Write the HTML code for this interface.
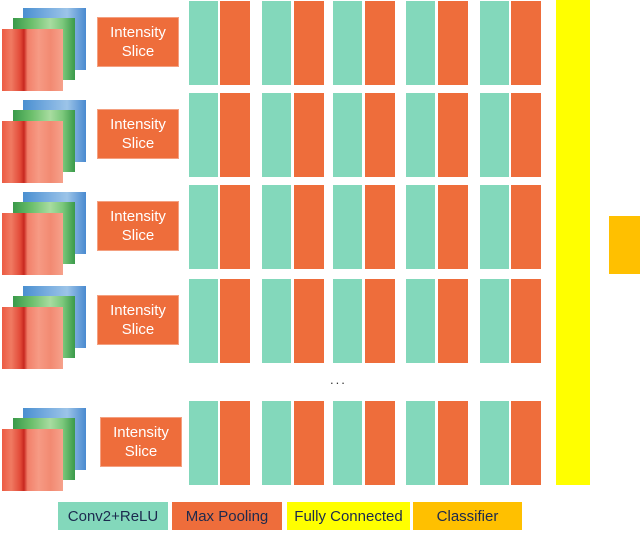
<!DOCTYPE html>
<html><head><meta charset="utf-8"><style>
body{margin:0;width:640px;height:533px;background:#fff;position:relative;overflow:hidden;font-family:"Liberation Sans",sans-serif}
div{position:absolute;box-sizing:border-box}
.t{background:#83d8bb}.o{background:#ee6d3b}
.lbl{background:#ee6d3b;color:#fff;font-size:15px;line-height:19px;text-align:center;display:flex;align-items:center;justify-content:center;border:1px solid #f4a080}
.leg{top:502px;height:28px;font-size:15px;color:#1c2a4e;display:flex;align-items:center;justify-content:center}
.red{background:linear-gradient(90deg,#ec5a42 0%,#f07a62 15%,#e24a38 30%,#c8281f 36%,#f2806a 42%,#f69a84 60%,#f28a72 80%,#f6a28c 100%)}
.grn{background:linear-gradient(90deg,#3a9a4a 0%,#6cbf6c 30%,#a8dca0 60%,#7cc87c 80%,#3a9a4a 100%)}
.blu{background:linear-gradient(90deg,#4a8fd0 0%,#7aaee0 40%,#9cc4e8 70%,#4a8ad0 100%)}
</style></head><body>
<div style="left:556px;top:0;width:34px;height:485px;background:#ffff00"></div>
<div style="left:609px;top:216px;width:31px;height:58px;background:#ffc000"></div>
<div style="left:330px;top:372px;font-size:13px;color:#333;letter-spacing:2px">...</div>
<div class="leg t" style="left:58px;width:110px">Conv2+ReLU</div>
<div class="leg o" style="left:172px;width:110px">Max Pooling</div>
<div class="leg" style="left:287px;width:123px;background:#ffff00">Fully Connected</div>
<div class="leg" style="left:413px;width:109px;background:#ffc000">Classifier</div>
<script>
const rowTops=[1,93,185,279,401];
const labelX=[97,97,97,97,100];
const tealX=[189,262,333,406,480];
const oranX=[220,294,365,438,511];
function mk(cls,l,t,w,h){const d=document.createElement('div');d.className=cls;d.style.left=l+'px';d.style.top=t+'px';d.style.width=w+'px';d.style.height=h+'px';document.body.appendChild(d);return d;}
rowTops.forEach((y,i)=>{
  const b=mk('blu',23,y+7,63,62);
  
  
  const g=mk('grn',13,y+17,62,62);
  
  
  const r=mk('red',2,y+28,61,62);
  
  
  const l=mk('lbl',labelX[i],y+16,82,50);
  l.innerHTML='Intensity<br>Slice';
  
  
  tealX.forEach((x,j)=>{
    const t=mk('t',x,y,29,84);
    
    
    const o=mk('o',oranX[j],y,30,84);
    
    
  });
});
</script>
</body></html>
